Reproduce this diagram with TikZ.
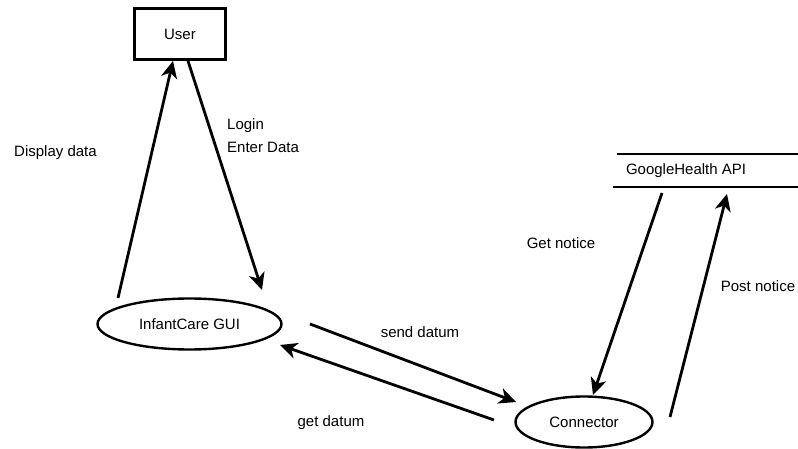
\documentclass[tikz,border=0pt]{standalone}
\usepackage{fontspec}
\setmainfont{Liberation Sans}
\usetikzlibrary{shapes.geometric,arrows.meta}

\begin{document}
\begin{tikzpicture}[x=1pt,y=-1pt,
  every node/.style={font=\fontsize{15}{23.5}\selectfont},
  entity/.style={draw,line width=2.8pt,rectangle,minimum width=91pt,minimum height=51pt,inner sep=0pt},
  proc/.style={draw,line width=2.4pt,ellipse,inner sep=0pt},
  store/.style={inner sep=0pt,minimum width=185pt,minimum height=33pt},
  flow/.style={line width=2.8pt,-{Stealth[length=17pt,width=16pt,inset=5pt]}},
  lbl/.style={anchor=base,inner sep=0pt},
  storeline/.style={line width=2.4pt}
]
\useasboundingbox (0,0) rectangle (798,449);

% entities, processes and the data store
\node[entity] (user) at (180,34) {User};
\node[proc,minimum width=184pt,minimum height=51pt] (gui) at (189.5,324) {InfantCare GUI};
\node[proc,minimum width=137pt,minimum height=51pt] (conn) at (584,422) {Connector};
\node[store] (api) at (705.5,170.5) {};
\node[anchor=west,inner sep=0pt] (apitext) at ([xshift=13]api.west) {GoogleHealth API};
\draw[storeline] ([xshift=4]api.north west) -- (api.north east);
\draw[storeline] (api.south west) -- (api.south east);

% data flows
\draw[flow] ([shift={(-71.5,-26)}]gui.center) -- ([xshift=-7]user.south);
\draw[flow] ([xshift=8]user.south) -- ([shift={(72.5,-34)}]gui.center);
\draw[flow] ([shift={(120.5,0)}]gui.center) -- ([shift={(-68,-20)}]conn.center);
\draw[flow] ([shift={(-90,-2)}]conn.center) -- ([shift={(90.5,21)}]gui.center);
\draw[flow] ([shift={(-43.5,22.5)}]api.center) -- ([shift={(9,-27)}]conn.center);
\draw[flow] ([shift={(86,-5)}]conn.center) -- ([shift={(21.5,23.5)}]api.center);

% flow labels
\node[lbl] (ldisp) at (55.5,157) {Display data};
\node[anchor=base west,inner sep=0pt,align=left] (llogin) at (227,153) {Login\\Enter Data};
\node[lbl] (lsend) at (420,337) {send datum};
\node[lbl] (lget) at (331,426) {get datum};
\node[lbl] (lgetn) at (561,249) {Get notice};
\node[lbl] (lpost) at (758,291) {Post notice};
\end{tikzpicture}
\end{document}
